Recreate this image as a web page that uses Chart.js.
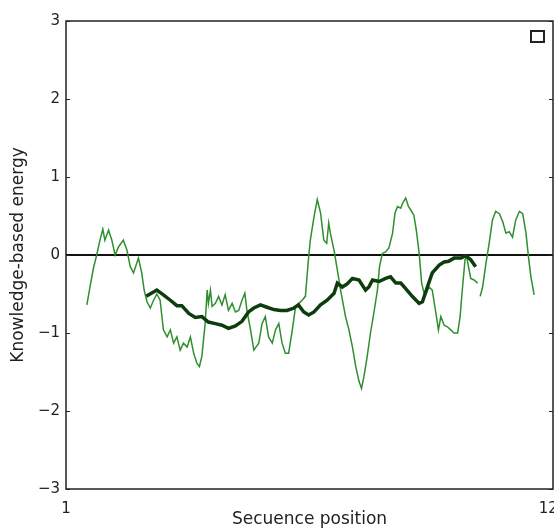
<!DOCTYPE html>
<html lang="en">
<head>
    <meta charset="UTF-8">
    <title>Knowledge-based energy</title>
    <script src="https://cdn.jsdelivr.net/npm/chart.js"></script>
    <style>
        html, body { margin: 0; padding: 0; background: #fff; overflow: hidden; }
        #wrap { width: 600px; height: 531px; }
    </style>
</head>
<body>
    <div id="wrap"><canvas id="energyChart" width="600" height="531"></canvas></div>

    <script>
        // x axis ends (sequence positions)
        const xTicks = [1, 120];
        const yTicks = [-3, -2, -1, 0, 1, 2, 3];

        // thin profile, first stretch
        const thinPosA = [6.1, 6.9, 7.7, 8.5, 9.3, 10.0, 10.5, 11.4, 12.2, 13.0, 13.8, 15.0, 15.9, 16.7, 17.5, 18.7,
            19.5, 20.1, 20.8, 21.6, 22.4, 23.2, 24.0, 24.8, 25.7, 26.5, 27.3, 28.1, 28.9, 29.7, 30.6, 31.4, 32.2,
            33.0, 33.6, 34.2, 35.0, 35.5, 35.8, 36.3, 36.7, 37.5, 38.3, 39.1, 39.9, 40.7, 41.6, 42.4, 43.2, 44.0,
            44.7, 45.2, 46.1, 46.9, 48.1, 48.9, 49.7, 50.5, 51.4, 52.2, 53.0, 53.8, 54.6, 55.4, 56.3, 57.1, 57.9,
            58.7, 59.5, 60.3, 60.7, 61.6, 62.4, 63.2, 64.0, 64.7, 65.2, 65.6, 66.5, 67.3, 68.1, 69.3, 70.1, 71.0,
            71.8, 72.6, 73.2, 73.8, 74.6, 75.4, 76.2, 77.1, 77.6, 78.3, 79.1, 79.9, 80.8, 81.4, 82.0, 82.8, 83.3,
            84.0, 84.7, 85.2, 86.0, 86.6, 87.3, 87.9, 88.7, 89.7, 90.5, 91.4, 92.0, 92.6, 93.4, 94.2, 95.0, 95.8,
            96.7, 97.3, 97.9, 98.5, 98.9, 99.5, 99.9, 100.7, 101.6];
        const thinEnergyA = [-0.64, -0.40, -0.17, 0.00, 0.19, 0.33, 0.19, 0.32, 0.19, 0.00, 0.10, 0.19, 0.06, -0.15, -0.23, -0.04,
            -0.23, -0.45, -0.60, -0.68, -0.58, -0.50, -0.58, -0.96, -1.05, -0.96, -1.13, -1.05, -1.22, -1.13, -1.18, -1.05, -1.26,
            -1.39, -1.43, -1.30, -0.88, -0.45, -0.62, -0.45, -0.66, -0.62, -0.53, -0.64, -0.51, -0.71, -0.62, -0.73, -0.71, -0.58,
            -0.49, -0.71, -0.96, -1.22, -1.13, -0.88, -0.79, -1.05, -1.13, -0.96, -0.88, -1.13, -1.26, -1.26, -0.96, -0.66, -0.62,
            -0.58, -0.53, -0.02, 0.19, 0.49, 0.71, 0.54, 0.19, 0.15, 0.41, 0.28, 0.06, -0.19, -0.45, -0.79, -0.95, -1.18,
            -1.43, -1.62, -1.71, -1.56, -1.30, -1.00, -0.75, -0.45, -0.15, 0.02, 0.04, 0.09, 0.28, 0.54, 0.62, 0.60, 0.67,
            0.73, 0.62, 0.58, 0.51, 0.32, 0.02, -0.36, -0.53, -0.41, -0.45, -0.75, -0.96, -0.79, -0.90, -0.92, -0.96, -1.00,
            -1.00, -0.79, -0.41, -0.06, -0.02, -0.19, -0.30, -0.32, -0.36];

        // thin profile, second stretch
        const thinPosB = [102.2, 102.8, 103.6, 104.4, 105.2, 106.0, 106.9, 107.7, 108.5, 109.3, 110.1, 110.9, 111.8, 112.6,
            113.4, 114.0, 114.6, 115.4];
        const thinEnergyB = [-0.53, -0.41, -0.11, 0.15, 0.45, 0.56, 0.53, 0.43, 0.28, 0.30, 0.23, 0.45, 0.56, 0.53,
            0.28, -0.02, -0.28, -0.51];

        // smoothed profile (thick)
        const thickPos = [20.6, 23.2, 24.8, 26.5, 28.1, 29.3, 31.0, 32.6, 34.2, 35.8, 37.5, 39.1, 40.7, 42.4, 44.0, 45.6,
            46.9, 48.5, 50.1, 51.8, 53.4, 55.0, 56.7, 57.8, 59.1, 60.3, 61.6, 63.2, 64.8, 66.5, 67.3, 68.5, 69.7,
            71.0, 72.6, 74.2, 75.0, 75.9, 77.5, 79.1, 80.3, 81.6, 82.8, 84.0, 85.6, 87.3, 88.1, 89.3, 90.5, 92.2,
            93.4, 94.5, 95.8, 97.5, 98.7, 99.9, 101.1];
        const thickEnergy = [-0.53, -0.45, -0.51, -0.58, -0.65, -0.65, -0.75, -0.80, -0.79, -0.86, -0.88, -0.90, -0.94, -0.91, -0.85, -0.73,
            -0.68, -0.64, -0.67, -0.70, -0.71, -0.71, -0.68, -0.64, -0.73, -0.77, -0.73, -0.64, -0.58, -0.49, -0.36, -0.41, -0.37,
            -0.30, -0.32, -0.45, -0.41, -0.32, -0.34, -0.30, -0.28, -0.36, -0.36, -0.43, -0.53, -0.62, -0.60, -0.41, -0.23, -0.13,
            -0.09, -0.08, -0.04, -0.04, -0.01, -0.06, -0.15];

        const toPoints = (xs, ys) => xs.map((x, i) => ({ x: x, y: ys[i] }));

        const thinGreen = '#2f8f2f';
        const darkGreen = '#0d3d0d';
        const axisColor = '#222';

        // frame, inward ticks and the empty legend box, like the original plot
        const framePlugin = {
            id: 'frame',
            afterDraw(chart) {
                const { ctx, chartArea: a, scales } = chart;
                ctx.save();
                ctx.strokeStyle = axisColor;
                ctx.lineWidth = 1.5;
                ctx.strokeRect(a.left, a.top, a.right - a.left, a.bottom - a.top);
                ctx.lineWidth = 1;
                yTicks.forEach(v => {
                    const py = Math.round(scales.y.getPixelForValue(v)) + 0.5;
                    ctx.beginPath();
                    ctx.moveTo(a.left, py); ctx.lineTo(a.left + 4, py);
                    ctx.moveTo(a.right, py); ctx.lineTo(a.right - 4, py);
                    ctx.stroke();
                });
                ctx.lineWidth = 2;
                ctx.strokeRect(a.right - 22, a.top + 10, 13, 11);
                ctx.restore();
            }
        };

        const ctx = document.getElementById('energyChart').getContext('2d');
        const chart = new Chart(ctx, {
            type: 'line',
            data: {
                datasets: [{
                    data: toPoints(thickPos, thickEnergy),
                    borderColor: darkGreen,
                    borderWidth: 3.5,
                    order: 0
                }, {
                    data: toPoints(thinPosA, thinEnergyA),
                    borderColor: thinGreen,
                    borderWidth: 1.5,
                    order: 1
                }, {
                    data: toPoints(thinPosB, thinEnergyB),
                    borderColor: thinGreen,
                    borderWidth: 1.5,
                    order: 1
                }]
            },
            options: {
                responsive: false,
                animation: false,
                layout: { padding: { left: 0, top: 21, right: 47, bottom: 0 } },
                elements: { point: { radius: 0 }, line: { tension: 0, fill: false } },
                plugins: { legend: { display: false }, tooltip: { enabled: false } },
                scales: {
                    x: {
                        type: 'linear',
                        min: xTicks[0],
                        max: xTicks[xTicks.length - 1],
                        afterBuildTicks: s => { s.ticks = xTicks.map(v => ({ value: v })); },
                        afterFit: s => { s.height = 42; },
                        border: { display: false },
                        grid: { display: false },
                        ticks: { color: axisColor, padding: 3, maxRotation: 0, font: { family: 'DejaVu Sans', size: 15 } },
                        title: {
                            display: true,
                            text: 'Secuence position',
                            color: axisColor,
                            padding: { top: 0, bottom: 1 },
                            font: { family: 'DejaVu Sans', size: 17 }
                        }
                    },
                    y: {
                        min: -3,
                        max: 3,
                        afterBuildTicks: s => { s.ticks = yTicks.map(v => ({ value: v })); },
                        afterFit: s => { s.width = 66; },
                        border: { display: false },
                        grid: {
                            drawTicks: false,
                            color: c => c.tick && c.tick.value === 0 ? '#111' : 'rgba(0,0,0,0)',
                            lineWidth: 2
                        },
                        ticks: {
                            color: axisColor,
                            padding: 6,
                            font: { family: 'DejaVu Sans', size: 15 },
                            callback: v => (v < 0 ? '\u2212' + Math.abs(v) : String(v))
                        },
                        title: {
                            display: true,
                            text: 'Knowledge-based energy',
                            color: axisColor,
                            padding: { top: 8, bottom: 0 },
                            font: { family: 'DejaVu Sans', size: 17 }
                        }
                    }
                }
            },
            plugins: [framePlugin]
        });
    </script>
</body>
</html>
